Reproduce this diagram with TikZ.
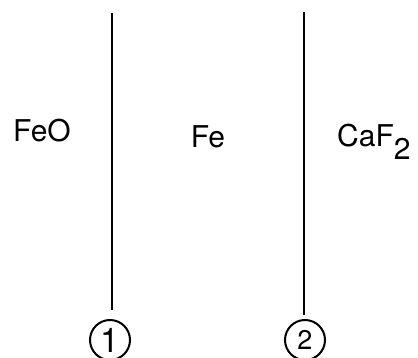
\documentclass[tikz,border=0pt]{standalone}
\usepackage{fontspec}
\setmainfont{TeX Gyre Heros}
\begin{document}
\begin{tikzpicture}[x=1pt,y=-1pt,
  phase/.style={font=\fontsize{30}{32}\selectfont, inner sep=0pt},
  marker/.style={circle, draw, line width=2pt, minimum size=40pt, inner sep=0pt, font=\fontsize{27}{30}\selectfont},
  wall/.style={line width=2pt}]
\useasboundingbox (0,0) rectangle (418,358);
\node[phase] (feo) at (42,131) {FeO};
\node[phase] (fe) at (208,137) {Fe};
\node[phase, anchor=base west] (caf) at (337,147) {CaF\raisebox{-13pt}{2}};
\node[marker, font=\fontsize{34}{36}\selectfont] (m1) at (110,340) {1};
\node[marker] (m2) at (305,340) {2};
\coordinate (t1) at (112,13);
\coordinate (t2) at (304,12);
\coordinate (b1) at (112,310);
\coordinate (b2) at (304,315);
\draw[wall] (t1) -- (b1);
\draw[wall] (t2) -- (b2);
\end{tikzpicture}
\end{document}
